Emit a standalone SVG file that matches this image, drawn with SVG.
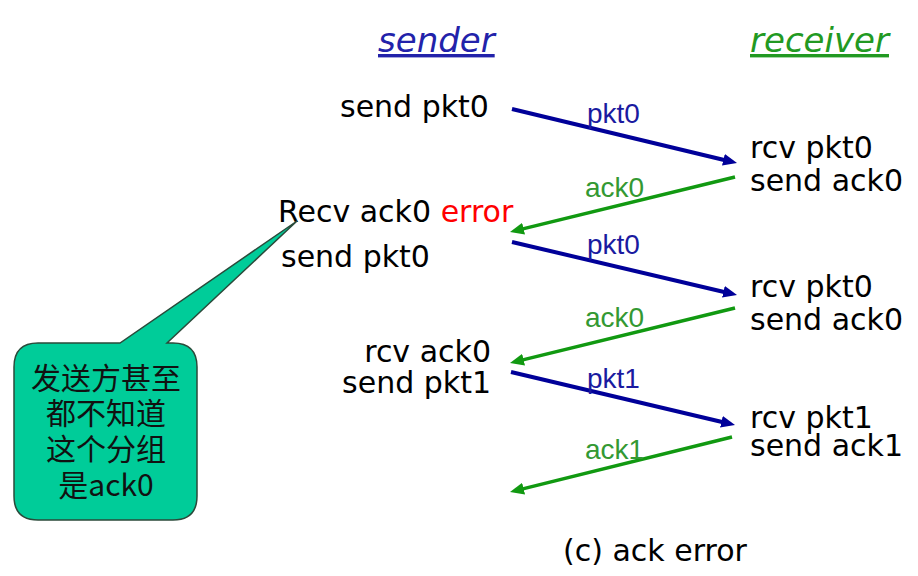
<svg xmlns="http://www.w3.org/2000/svg" width="918" height="576" viewBox="0 0 918 576">
<style>
.t{font-family:"DejaVu Sans","Noto Sans",sans-serif;font-size:30px;fill:#000}
.h{font-family:"DejaVu Sans",sans-serif;font-size:34px;font-style:italic;text-decoration:underline}
.lb{font-family:"Liberation Sans",Arial,sans-serif;font-size:28px}
.blue{stroke:#000099;stroke-width:4;fill:none}
.green{stroke:#119911;stroke-width:3.5;fill:none}
.cj{font-family:"Noto Sans CJK SC","Noto Sans",sans-serif;font-size:30px;fill:#111}
</style>
<defs>
<marker id="ab" markerUnits="userSpaceOnUse" markerWidth="14" markerHeight="12" refX="4" refY="6" orient="auto"><path d="M0,0 L14,6 L0,12 z" fill="#000099"/></marker>
<marker id="ag" markerUnits="userSpaceOnUse" markerWidth="14" markerHeight="12" refX="4" refY="6" orient="auto"><path d="M0,0 L14,6 L0,12 z" fill="#119911"/></marker>
</defs>
<rect width="918" height="576" fill="#fff"/>
<g id="headers">
<text class="h" x="378" y="52" fill="#2222aa">sender</text>
<text class="h" x="750" y="52" fill="#229922">receiver</text>
</g>
<g id="sender">
<text class="t" x="340" y="117">send pkt0</text>
<text class="t" x="278" y="222">Recv ack0 <tspan fill="#ff0000">error</tspan></text>
<text class="t" x="281" y="267">send pkt0</text>
<text class="t" x="491" y="362" text-anchor="end">rcv ack0</text>
<text class="t" x="491" y="393" text-anchor="end">send pkt1</text>
</g>
<g id="receiver">
<text class="t" x="750" y="158">rcv pkt0</text>
<text class="t" x="750" y="191">send ack0</text>
<text class="t" x="750" y="297">rcv pkt0</text>
<text class="t" x="750" y="330">send ack0</text>
<text class="t" x="750" y="428">rcv pkt1</text>
<text class="t" x="750" y="456">send ack1</text>
</g>
<g id="connectors">
<line class="blue" x1="512" y1="109" x2="727.3" y2="160.7" marker-end="url(#ab)"/>
<line class="green" x1="735" y1="177" x2="519.7" y2="229.6" marker-end="url(#ag)"/>
<line class="blue" x1="512" y1="242" x2="727.3" y2="292.7" marker-end="url(#ab)"/>
<line class="green" x1="735" y1="308" x2="519.7" y2="360.6" marker-end="url(#ag)"/>
<line class="blue" x1="511" y1="372" x2="725.3" y2="422.7" marker-end="url(#ab)"/>
<line class="green" x1="732" y1="437" x2="519.7" y2="489.6" marker-end="url(#ag)"/>
</g>
<g id="labels">
<text class="lb" x="587" y="123" fill="#1a1aa0">pkt0</text>
<text class="lb" x="585" y="197" fill="#339933">ack0</text>
<text class="lb" x="587" y="254" fill="#1a1aa0">pkt0</text>
<text class="lb" x="585" y="327" fill="#339933">ack0</text>
<text class="lb" x="587" y="388" fill="#1a1aa0">pkt1</text>
<text class="lb" x="585" y="459" fill="#339933">ack1</text>
</g>
<g id="callout">
<path d="M38,343 L120,343 L297,221 L167,343 L173,343 Q197,343 197,367 L197,496 Q197,520 173,520 L38,520 Q14,520 14,496 L14,367 Q14,343 38,343 Z" fill="#00cc99" stroke="#2a4a3a" stroke-width="1.5"/>
<text class="cj" x="106" y="389" text-anchor="middle">发送方甚至</text>
<text class="cj" x="106" y="424" text-anchor="middle">都不知道</text>
<text class="cj" x="106" y="460" text-anchor="middle">这个分组</text>
<text class="cj" x="106" y="496" text-anchor="middle">是ack0</text>
</g>
<g id="caption">
<text class="t" x="563" y="561">(c) ack error</text>
</g>
</svg>
